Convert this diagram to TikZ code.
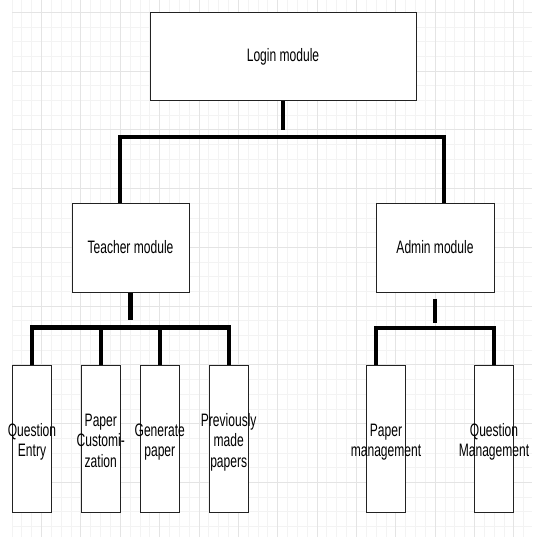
\documentclass[tikz,border=0pt]{standalone}
\usepackage{fontspec}
\setmainfont{Liberation Sans}[FakeStretch=0.67]
\usepackage{tikz}
\definecolor{gridmajor}{HTML}{E4E4E4}
\definecolor{gridminor}{HTML}{F3F3F3}
\definecolor{boxline}{HTML}{222222}
\newcommand{\stacktxt}[1]{\makebox[0pt]{\raisebox{-4pt}[\height][\depth]{\begin{tabular}{@{}c@{}}#1\end{tabular}}}}

\begin{document}
\begin{tikzpicture}[x=1pt,y=-1pt,
	module/.style={draw=boxline,line width=1pt,fill=white,inner sep=0pt,font=\fontsize{18}{20.5}\selectfont},
	leaf/.style={module,minimum width=39.4pt,minimum height=147pt},
	link/.style={line width=4.2pt,black},
	minorline/.style={gridminor,line width=0.8pt},
	majorline/.style={gridmajor,line width=0.8pt}
	]
	\useasboundingbox (0,0) rectangle (532,537);
	\fill[white] (0,0) rectangle (532,537);
	\foreach \i in {0,...,52} \draw[minorline] ({12+9.84*\i},0) -- ({12+9.84*\i},537);
	\foreach \j in {0,...,35} \draw[minorline] (12,{12.3+14.69*\j}) -- (532,{12.3+14.69*\j});
	\foreach \i in {0,...,12} \draw[majorline] ({41.5+39.36*\i},0) -- ({41.5+39.36*\i},537);
	\foreach \j in {0,...,8} \draw[majorline] (12,{12.3+58.76*\j}) -- (532,{12.3+58.76*\j});

	\node[module,minimum width=266pt,minimum height=88.4pt] (login) at (283,56.5) {Login module};
	\node[module,minimum width=117pt,minimum height=89pt] (teacher) at (130.5,247.5) {Teacher module};
	\node[module,minimum width=118pt,minimum height=89pt] (admin) at (435,247.5) {Admin module};

	\node[leaf] (qentry) at (32,438.5) {\stacktxt{Question\\Entry}};
	\node[leaf] (pcustom) at (100.8,438.5) {\stacktxt{Paper\\Customi-\\zation}};
	\node[leaf] (genpaper) at (159.8,438.5) {\stacktxt{Generate\\paper}};
	\node[leaf] (prevpapers) at (228.7,438.5) {\stacktxt{Previously\\made\\papers}};
	\node[leaf] (papermgmt) at (386,438.5) {\stacktxt{Paper\\management}};
	\node[leaf] (questmgmt) at (494,438.5) {\stacktxt{Question\\Management}};

	\coordinate (loginbar) at (283,136.7);
	\draw[link,shorten >=6.5pt] (login.south) -- (loginbar);
	\draw[link] ([xshift=-10.5pt]teacher.north) |- (loginbar) -| ([xshift=9pt]admin.north);

	\coordinate (teacherbar) at (130.5,327.5);
	\draw[link,shorten >=7.5pt] (teacher.south) -- (teacherbar);
	\draw[link] (qentry.north) |- (teacherbar) -| (prevpapers.north);
	\draw[link] (pcustom.north) -- (pcustom.north |- teacherbar);
	\draw[link] (genpaper.north) -- (genpaper.north |- teacherbar);

	\coordinate (adminbar) at (435,327.7);
	\draw[link,shorten <=6pt,shorten >=5pt] (admin.south) -- (adminbar);
	\draw[link] ([xshift=-10pt]papermgmt.north) |- (adminbar) -| (questmgmt.north);
\end{tikzpicture}
\end{document}
